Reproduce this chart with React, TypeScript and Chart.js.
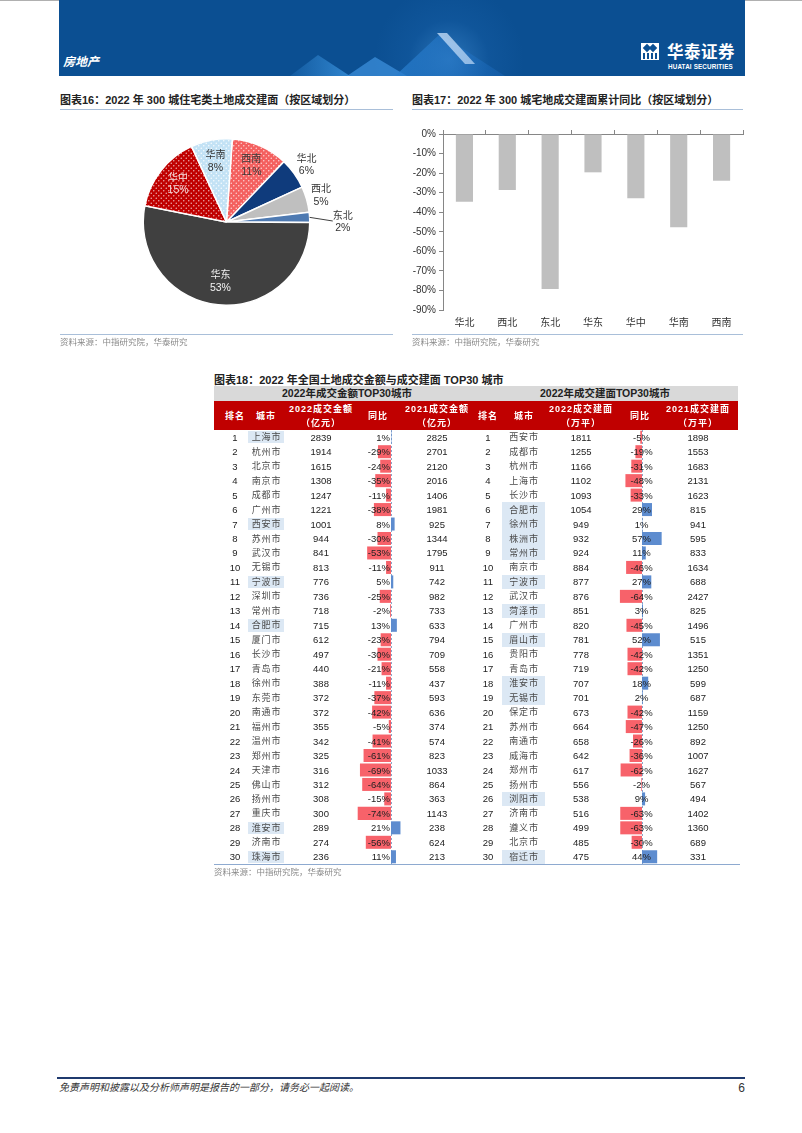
import React, { useEffect, useRef } from "react";
import { Chart, registerables } from "chart.js";

Chart.register(...registerables);

const FONT = '"Liberation Sans", "Noto Sans CJK SC", sans-serif';

// ---------- Figure 16: pie ----------
const pieLabels = ["西南", "华北", "西北", "东北", "华东", "华中", "华南"];
const pieValues = [11, 6, 5, 2, 53, 15, 8];

// ---------- Figure 17: bars ----------
const barCategories = ["华北", "西北", "东北", "华东", "华中", "华南", "西南"];
const barValues = [-34.6, -28.6, -79.2, -19.6, -32.8, -47.7, -23.9];

// ---------- Figure 18: table ----------
const ranks = [1, 2, 3, 4, 5, 6, 7, 8, 9, 10, 11, 12, 13, 14, 15, 16, 17, 18, 19, 20, 21, 22, 23, 24, 25, 26, 27, 28, 29, 30];
const amtCities = ["上海市", "杭州市", "北京市", "南京市", "成都市", "广州市", "西安市", "苏州市", "武汉市", "无锡市", "宁波市", "深圳市", "常州市", "合肥市", "厦门市", "长沙市", "青岛市", "徐州市", "东莞市", "南通市", "福州市", "温州市", "郑州市", "天津市", "佛山市", "扬州市", "重庆市", "淮安市", "济南市", "珠海市"];
const amt2022 = [2839, 1914, 1615, 1308, 1247, 1221, 1001, 944, 841, 813, 776, 736, 718, 715, 612, 497, 440, 388, 372, 372, 355, 342, 325, 316, 312, 308, 300, 289, 274, 236];
const amtYoY = [1, -29, -24, -35, -11, -38, 8, -30, -53, -11, 5, -25, -2, 13, -23, -30, -21, -11, -37, -42, -5, -41, -61, -69, -64, -15, -74, 21, -56, 11];
const amt2021 = [2825, 2701, 2120, 2016, 1406, 1981, 925, 1344, 1795, 911, 742, 982, 733, 633, 794, 709, 558, 437, 593, 636, 374, 574, 823, 1033, 864, 363, 1143, 238, 624, 213];

const areaCities = ["西安市", "成都市", "杭州市", "上海市", "长沙市", "合肥市", "徐州市", "株洲市", "常州市", "南京市", "宁波市", "武汉市", "菏泽市", "广州市", "眉山市", "贵阳市", "青岛市", "淮安市", "无锡市", "保定市", "苏州市", "南通市", "威海市", "郑州市", "扬州市", "浏阳市", "济南市", "遵义市", "北京市", "宿迁市"];
const area2022 = [1811, 1255, 1166, 1102, 1093, 1054, 949, 932, 924, 884, 877, 876, 851, 820, 781, 778, 719, 707, 701, 673, 664, 658, 642, 617, 556, 538, 516, 499, 485, 475];
const areaYoY = [-5, -19, -31, -48, -33, 29, 1, 57, 11, -46, 27, -64, 3, -45, 52, -42, -42, 18, 2, -42, -47, -26, -36, -62, -2, 9, -63, -63, -30, 44];
const area2021 = [1898, 1553, 1683, 2131, 1623, 815, 941, 595, 833, 1634, 688, 2427, 825, 1496, 515, 1351, 1250, 599, 687, 1159, 1250, 892, 1007, 1627, 567, 494, 1402, 1360, 689, 331];

const ROW_TOP = 430;
const ROW_H = 14.47;

function T({ x, y, children, size = 10, bold = false, color = "#222", align = "left", italic = false, ls = 0, z = 2 }: any) {
  const tx = align === "center" ? "translateX(-50%)" : align === "right" ? "translateX(-100%)" : "none";
  return (
    <div
      style={{
        position: "absolute",
        left: x,
        top: y - size,
        height: size * 2,
        lineHeight: `${size * 2}px`,
        fontSize: size,
        fontWeight: bold ? 700 : 400,
        color,
        fontStyle: italic ? "italic" : "normal",
        letterSpacing: ls,
        whiteSpace: "nowrap",
        transform: tx,
        zIndex: z,
      }}
    >
      {children}
    </div>
  );
}

function Line({ x, y, w, h = 1, color }: any) {
  return <div style={{ position: "absolute", left: x, top: y, width: w, height: h, background: color }} />;
}

function PieChart() {
  const ref = useRef<HTMLCanvasElement>(null);
  useEffect(() => {
    const canvas = ref.current!;
    const mainCtx = canvas.getContext("2d")!;
    const dots = (bg: string, dot: string) => {
      const c = document.createElement("canvas");
      c.width = 5;
      c.height = 5;
      const g = c.getContext("2d")!;
      g.fillStyle = bg;
      g.fillRect(0, 0, 5, 5);
      g.fillStyle = dot;
      g.beginPath();
      g.arc(1.25, 1.25, 0.75, 0, Math.PI * 2);
      g.fill();
      g.beginPath();
      g.arc(3.75, 3.75, 0.75, 0, Math.PI * 2);
      g.fill();
      return mainCtx.createPattern(c, "repeat")!;
    };
    const fills: any[] = [
      dots("#f4605f", "rgba(255,255,255,0.75)"),
      "#0f3b7c",
      "#bfbfbf",
      "#4e7ab2",
      "#404040",
      dots("#c00000", "rgba(255,255,255,0.7)"),
      dots("#c3e2f5", "rgba(255,255,255,0.9)"),
    ];
    const modes = ["in", "out", "out", "lead", "in", "in", "in"];
    const textColors = ["#3a3a3a", "#333", "#333", "#333", "#f2f2f2", "#f4dada", "#333"];
    const labelPlugin = {
      id: "pieLabels",
      afterDatasetsDraw(chart: any) {
        const ctx = chart.ctx;
        const meta = chart.getDatasetMeta(0);
        meta.data.forEach((arc: any, i: number) => {
          const { x, y, startAngle, endAngle, outerRadius } = arc;
          const mid = (startAngle + endAngle) / 2;
          const cos = Math.cos(mid);
          const sin = Math.sin(mid);
          let lx: number, ly: number;
          ctx.save();
          if (modes[i] === "in") {
            const r = i === 4 ? outerRadius * 0.72 : outerRadius * 0.74;
            lx = x + cos * r;
            ly = y + sin * r;
          } else if (modes[i] === "out") {
            const r = outerRadius + 15;
            lx = x + cos * r;
            ly = y + sin * r;
          } else {
            ctx.strokeStyle = "#404040";
            ctx.lineWidth = 1;
            ctx.beginPath();
            ctx.moveTo(x + cos * outerRadius, y + sin * outerRadius);
            ctx.lineTo(x + outerRadius + 23, y - 1);
            ctx.stroke();
            lx = x + outerRadius + 33;
            ly = y;
          }
          ctx.fillStyle = textColors[i];
          ctx.textAlign = "center";
          ctx.textBaseline = "middle";
          ctx.font = `10px ${FONT}`;
          ctx.fillText(pieLabels[i], lx, ly - 6);
          ctx.font = `10.5px ${FONT}`;
          ctx.fillText(pieValues[i] + "%", lx, ly + 6.5);
          ctx.restore();
        });
      },
    };
    const chart = new Chart(canvas, {
      type: "pie",
      data: {
        labels: pieLabels,
        datasets: [{ data: pieValues, backgroundColor: fills, borderColor: "#ffffff", borderWidth: 1.5 }],
      },
      options: {
        animation: false,
        responsive: false,
        rotation: 4,
        layout: { padding: 26 },
        plugins: { legend: { display: false }, tooltip: { enabled: false } },
      },
      plugins: [labelPlugin],
    } as any);
    return () => chart.destroy();
  }, []);
  return <canvas ref={ref} width={333} height={220} style={{ position: "absolute", left: 60, top: 112, width: 333, height: 220 }} />;
}

function BarChart() {
  const ref = useRef<HTMLCanvasElement>(null);
  useEffect(() => {
    const font = { size: 10, family: FONT };
    const chart = new Chart(ref.current!, {
      type: "bar",
      data: {
        labels: barCategories,
        datasets: [{ data: barValues, backgroundColor: "#bfbfbf", barPercentage: 0.4, categoryPercentage: 1 }],
      },
      options: {
        animation: false,
        responsive: false,
        layout: { padding: { left: 0, right: 7, top: 14, bottom: 0 } },
        plugins: { legend: { display: false }, tooltip: { enabled: false } },
        scales: {
          x: {
            grid: { display: false, drawTicks: false },
            border: { display: false },
            ticks: { padding: 7, font, color: "#333" },
            afterFit: (s: any) => {
              s.height = 25;
            },
          },
          x2: {
            type: "category",
            labels: barCategories,
            position: "top",
            offset: true,
            grid: { offset: true, drawOnChartArea: false, tickLength: 4, color: "#868686" },
            border: { display: true, color: "#868686" },
            ticks: { display: false },
            afterFit: (s: any) => {
              s.height = 0;
            },
          },
          y: {
            min: -90,
            max: 0,
            ticks: { stepSize: 10, callback: (v: any) => v + "%", font, color: "#333", padding: 3 },
            grid: { drawOnChartArea: false, tickLength: 4, color: "#868686" },
            border: { color: "#868686" },
            afterFit: (s: any) => {
              s.width = 43;
            },
          },
        },
      },
    } as any);
    return () => chart.destroy();
  }, []);
  return <canvas ref={ref} width={350} height={215} style={{ position: "absolute", left: 400, top: 120, width: 350, height: 215 }} />;
}

function YoyBars({ cities, values, left, width, min, max }: any) {
  const ref = useRef<HTMLCanvasElement>(null);
  useEffect(() => {
    const zeroLine = {
      id: "zeroLine",
      beforeDatasetsDraw(chart: any) {
        const ctx = chart.ctx;
        const x0 = Math.round(chart.scales.x.getPixelForValue(0)) + 0.5;
        ctx.save();
        ctx.strokeStyle = "#8aa4c8";
        ctx.lineWidth = 1;
        ctx.setLineDash([2, 2]);
        ctx.beginPath();
        ctx.moveTo(x0, chart.chartArea.top);
        ctx.lineTo(x0, chart.chartArea.bottom);
        ctx.stroke();
        ctx.restore();
      },
    };
    const chart = new Chart(ref.current!, {
      type: "bar",
      data: {
        labels: cities,
        datasets: [
          {
            data: values,
            backgroundColor: values.map((v: number) => (v < 0 ? "#f7626a" : "#5d8ccf")),
            barPercentage: 0.9,
            categoryPercentage: 1,
          },
        ],
      },
      options: {
        animation: false,
        responsive: false,
        indexAxis: "y",
        layout: { padding: 0 },
        plugins: { legend: { display: false }, tooltip: { enabled: false } },
        scales: {
          x: { display: false, min, max },
          y: { display: false },
        },
      },
      plugins: [zeroLine],
    } as any);
    return () => chart.destroy();
  }, []);
  const h = Math.round(ROW_H * 30);
  return (
    <canvas
      ref={ref}
      width={width}
      height={h}
      style={{ position: "absolute", left, top: ROW_TOP, width, height: h, zIndex: 1 }}
    />
  );
}

function Header() {
  return (
    <>
      <Line x={0} y={0} w={802} h={1} color="#b0b0b0" />
      <div style={{ position: "absolute", left: 59, top: 0, width: 686, height: 76, background: "#0b4f92", overflow: "hidden" }}>
        <div
          style={{
            position: "absolute",
            left: 280,
            top: 0,
            width: 220,
            height: 76,
            background: "radial-gradient(circle at 110px 60px, rgba(90,170,240,0.4) 0px, rgba(40,120,200,0.15) 40px, rgba(11,79,146,0) 75px)",
          }}
        />
        <div style={{ position: "absolute", left: 0, top: 0, width: 686, height: 76, background: "linear-gradient(90deg, rgba(47,134,214,0.2) 230px, rgba(60,150,225,0.75) 290px)", clipPath: "polygon(231px 76px, 259px 55px, 291px 76px)" }} />
        <div style={{ position: "absolute", left: 0, top: 0, width: 686, height: 76, background: "rgba(63,147,223,0.7)", clipPath: "polygon(288px 76px, 316px 57px, 348px 76px)" }} />
        <div style={{ position: "absolute", left: 0, top: 0, width: 686, height: 76, background: "linear-gradient(90deg, rgba(40,125,205,0.75) 340px, rgba(30,110,195,0.35) 440px)", clipPath: "polygon(336px 76px, 381px 34px, 446px 76px)" }} />
        <div style={{ position: "absolute", left: 0, top: 0, width: 686, height: 76, background: "linear-gradient(160deg, rgba(235,243,255,0.95), rgba(150,195,240,0.6))", clipPath: "polygon(378px 33px, 388px 33px, 416px 64px, 406px 64px)" }} />
        <div style={{ position: "absolute", left: 4, top: 54, color: "#fff", fontSize: 12, fontStyle: "italic", fontWeight: 700, lineHeight: "16px" }}>房地产</div>
        <div style={{ position: "absolute", left: 582, top: 43, width: 18, height: 17, background: "#fff" }}>
          <div style={{ position: "absolute", left: 3, top: 2, width: 6, height: 6, background: "#0b4f92", transform: "rotate(45deg)" }} />
          <div style={{ position: "absolute", left: 9, top: 2, width: 6, height: 6, background: "#0b4f92", transform: "rotate(45deg)" }} />
          <div style={{ position: "absolute", left: 2, top: 10, width: 2, height: 6, background: "#0b4f92" }} />
          <div style={{ position: "absolute", left: 6, top: 10, width: 2, height: 6, background: "#0b4f92" }} />
          <div style={{ position: "absolute", left: 10, top: 10, width: 2, height: 6, background: "#0b4f92" }} />
          <div style={{ position: "absolute", left: 14, top: 10, width: 2, height: 6, background: "#0b4f92" }} />
        </div>
        <div style={{ position: "absolute", left: 608, top: 42, color: "#fff", fontSize: 16.5, fontWeight: 700, lineHeight: "20px", letterSpacing: 0.5 }}>华泰证券</div>
        <div style={{ position: "absolute", left: 609, top: 63, color: "#fff", fontSize: 6.3, fontWeight: 700, lineHeight: "8px", letterSpacing: 0.15 }}>HUATAI SECURITIES</div>
      </div>
    </>
  );
}

function TableBlock() {
  const hdrY = 415.5;
  const rows: any[] = [];
  for (let i = 0; i < 30; i++) {
    const y = ROW_TOP + (i + 0.5) * ROW_H;
    const top = ROW_TOP + i * ROW_H;
    if (amtYoY[i] > 0) rows.push(<div key={"hl" + i} style={{ position: "absolute", left: 248, top: top + 1, width: 36, height: ROW_H - 2, background: "#dce8f4" }} />);
    if (areaYoY[i] > 0) rows.push(<div key={"hr" + i} style={{ position: "absolute", left: 502, top, width: 43, height: ROW_H, background: "#dce8f4" }} />);
    rows.push(<T key={"a" + i} x={235} y={y} size={9.5} align="center">{ranks[i]}</T>);
    rows.push(<T key={"b" + i} x={266.5} y={y} size={9} align="center" color="#4a4a4a" ls={0.8}>{amtCities[i]}</T>);
    rows.push(<T key={"c" + i} x={321} y={y} size={9.5} align="center">{amt2022[i]}</T>);
    rows.push(<T key={"d" + i} x={390} y={y} size={9.5} align="right">{amtYoY[i] + "%"}</T>);
    rows.push(<T key={"e" + i} x={437} y={y} size={9.5} align="center">{amt2021[i]}</T>);
    rows.push(<T key={"f" + i} x={488} y={y} size={9.5} align="center">{ranks[i]}</T>);
    rows.push(<T key={"g" + i} x={524} y={y} size={9} align="center" color="#4a4a4a" ls={0.8}>{areaCities[i]}</T>);
    rows.push(<T key={"h" + i} x={581} y={y} size={9.5} align="center">{area2022[i]}</T>);
    rows.push(<T key={"k" + i} x={641.5} y={y} size={9.5} align="center">{areaYoY[i] + "%"}</T>);
    rows.push(<T key={"m" + i} x={698} y={y} size={9.5} align="center">{area2021[i]}</T>);
  }
  const W = "#ffffff";
  return (
    <>
      <T x={214} y={379.5} size={11} bold>图表18：2022 年全国土地成交金额与成交建面 TOP30 城市</T>
      <div style={{ position: "absolute", left: 214, top: 386, width: 524, height: 15, background: "#d9d9d9" }} />
      <T x={347} y={393.5} size={10.5} bold color="#222" align="center">2022年成交金额TOP30城市</T>
      <T x={605} y={393.5} size={10.5} bold color="#222" align="center">2022年成交建面TOP30城市</T>
      <div style={{ position: "absolute", left: 214, top: 401, width: 524, height: 29, background: "#c00000" }} />
      <T x={235} y={hdrY} size={9} bold color={W} align="center" ls={1}>排名</T>
      <T x={266} y={hdrY} size={9} bold color={W} align="center" ls={1}>城市</T>
      <T x={321} y={409} size={9} bold color={W} align="center" ls={1}>2022成交金额</T>
      <T x={321} y={423} size={9} bold color={W} align="center" ls={1}>（亿元）</T>
      <T x={378} y={hdrY} size={9} bold color={W} align="center" ls={1}>同比</T>
      <T x={437} y={409} size={9} bold color={W} align="center" ls={1}>2021成交金额</T>
      <T x={437} y={423} size={9} bold color={W} align="center" ls={1}>（亿元）</T>
      <T x={488} y={hdrY} size={9} bold color={W} align="center" ls={1}>排名</T>
      <T x={524} y={hdrY} size={9} bold color={W} align="center" ls={1}>城市</T>
      <T x={581} y={409} size={9} bold color={W} align="center" ls={1}>2022成交建面</T>
      <T x={581} y={423} size={9} bold color={W} align="center" ls={1}>（万平）</T>
      <T x={640} y={hdrY} size={9} bold color={W} align="center" ls={1}>同比</T>
      <T x={698} y={409} size={9} bold color={W} align="center" ls={1}>2021成交建面</T>
      <T x={698} y={423} size={9} bold color={W} align="center" ls={1}>（万平）</T>
      <YoyBars cities={amtCities} values={amtYoY} left={341} width={70} min={-111.1} max={44.4} />
      <YoyBars cities={areaCities} values={areaYoY} left={600} width={70} min={-121.7} max={81.2} />
      {rows}
      <Line x={214} y={864} w={526} color="#8eaad0" />
      <T x={214} y={872} size={8.5} color="#8a8a8a">资料来源：中指研究院，华泰研究</T>
    </>
  );
}

export default function App() {
  return (
    <div
      style={{
        position: "absolute",
        left: 0,
        top: 0,
        width: 802,
        height: 1133,
        background: "#ffffff",
        fontFamily: FONT,
        color: "#222",
        overflow: "hidden",
      }}
    >
      <Header />
      <T x={60} y={100} size={11} bold>图表16：2022 年 300 城住宅类土地成交建面（按区域划分）</T>
      <Line x={60} y={109} w={333} color="#a9bfd9" />
      <PieChart />
      <Line x={60} y={334} w={333} color="#a9bfd9" />
      <T x={60} y={342.5} size={8.5} color="#8a8a8a">资料来源：中指研究院，华泰研究</T>

      <T x={412} y={100} size={11} bold>图表17：2022 年 300 城宅地成交建面累计同比（按区域划分）</T>
      <Line x={412} y={109} w={331} color="#a9bfd9" />
      <BarChart />
      <Line x={412} y={334} w={331} color="#a9bfd9" />
      <T x={412} y={342.5} size={8.5} color="#8a8a8a">资料来源：中指研究院，华泰研究</T>

      <TableBlock />

      <Line x={57} y={1077} w={688} h={2} color="#1f3a6e" />
      <T x={59} y={1088} size={10} italic color="#333">免责声明和披露以及分析师声明是报告的一部分，请务必一起阅读。</T>
      <T x={745} y={1088} size={12} align="right" color="#333">6</T>
    </div>
  );
}
